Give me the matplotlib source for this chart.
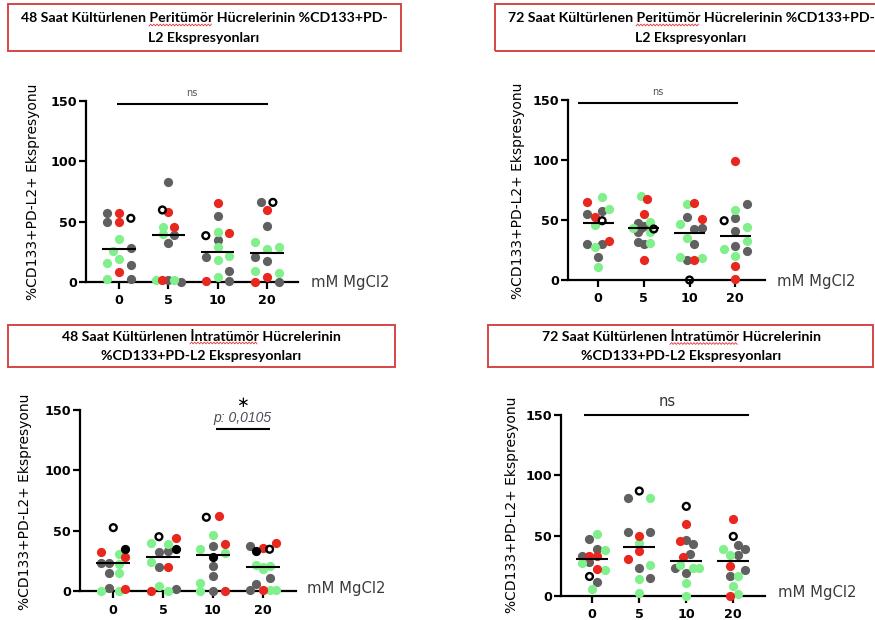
import numpy as np
import matplotlib.pyplot as plt
from matplotlib.lines import Line2D
from matplotlib.patches import Rectangle
from matplotlib.font_manager import FontProperties

W, H = 875, 620

categories = ["0", "5", "10", "20"]
x_label = "mM MgCl2"
y_label = "%CD133+PD-L2+ Ekspresyonu"

# group codes per dot: G gray, R red, Y green, K black, O open circle
# slots = sideways spread of the dots (GraphPad style), in dot widths

# 48 h peritumoral
p1_title = ["48 Saat Kültürlenen Peritümör Hücrelerinin %CD133+PD-", "L2 Ekspresyonları"]
p1_values = [
    [56.9, 56.9, 52.8, 50, 50, 35.4, 27.9, 26, 18.8, 15.5, 14.1, 8.6, 2.2, 2.2],
    [83.1, 59.7, 58.3, 45.3, 45.3, 39.8, 39, 32, 1.7, 1.7, 1.7, 1.7, 0],
    [65.2, 55, 41.2, 40.3, 38.4, 34.8, 28.7, 21.8, 20.5, 18.2, 9.4, 4.4, 1.1, 1.1],
    [66, 66, 59.7, 46.7, 33.4, 28.7, 27.3, 20.5, 17.4, 9.1, 7.7, 4.4, 0, 0],
]
p1_groups = ["GROGRYGYYYGRYG", "GORYRYGGYRGYG", "RGYROGYYGYGYRG", "GORGYYYGGYYRRG"]
p1_slots = [
    [-2, 0, 2, -2, 0, 0, 2, -1, 0, -2, 2, 0, -2, 2],
    [0, -1, 0, -0.9, 1, -0.9, 1, 0, -2.1, -1, 0, 1, 2.1],
    [0, 0, 0, 2, -2, 0, 0, 2, -2, 0, 2, 0, -2, 2],
    [-1, 1, 0, 0, -2, 2, 0, -2, 0, -2, 2, 0, -2, 2],
]

# 72 h peritumoral
p2_title = ["72 Saat Kültürlenen Peritümör Hücrelerinin %CD133+PD-", "L2 Ekspresyonları"]
p2_values = [
    [68.9, 64.7, 59.2, 57.5, 54.7, 52.8, 49.4, 45.8, 32.8, 29.7, 29.7, 27.2, 18.9, 11.1],
    [70.3, 67.5, 55, 47.2, 48.6, 45, 43.6, 43, 42.5, 40.3, 40.3, 31.4, 30, 30.6, 16.7],
    [64.4, 63.3, 52.2, 50.8, 46.4, 43.6, 42.5, 35.3, 30, 19.4, 18, 16.7, 16.7, 0],
    [99.5, 63.3, 58.3, 51.9, 49.4, 44.4, 41.1, 32.5, 28.3, 25.8, 24.4, 20.3, 11.9, 0.6],
]
p2_groups = ["YRYGGROYRGGYGY", "YRRGYGGYOGYGGYR", "RYGRYGGYGYYGRO", "RGYGOYGYGYGYRR"]
p2_slots = [
    [0.7, -2, 2, 0.7, -2, -0.6, 0.7, -0.6, 2, -2, 0.7, -0.6, 0, 0],
    [-0.6, 0.5, 0, -1.1, 1.05, 0, -0.6, -2, 1.8, -1.1, 1.05, -1.1, 0, 1.05, 0],
    [0.9, -0.5, -0.5, 2.3, -1.8, 2.3, 0.9, -0.5, 0.9, -1.8, 2.3, -0.5, 0.9, 0],
    [0, 2.2, 0, 0, -2, 2.2, 0, 2.2, 0, -2, 2.2, 0, 0, 0],
]

# 48 h intratumoral
p3_title = ["48 Saat Kültürlenen İntratümör Hücrelerinin", "%CD133+PD-L2 Ekspresyonları"]
p3_values = [
    [52.5, 34.8, 32.6, 30.7, 28.4, 23.5, 23.5, 22.1, 15.2, 15.2, 2.2, 0.3, 0.3, 1.4],
    [45, 44.2, 39.5, 38.9, 34.8, 32.3, 32.8, 24.3, 20.2, 20.2, 4.1, 1.4, 0.3, 0.3],
    [62.2, 61.1, 46.4, 38.9, 37.3, 34.6, 31.7, 28.4, 20.7, 12.7, 6.9, 0.3, 0.3, 0.3],
    [39.5, 37.3, 33.4, 35.4, 34.6, 21.5, 18, 19.5, 21, 10.5, 5.8, 0.8, 0.8, 0.8, 0.8],
]
p3_groups = ["OKRYRGGYGYGYYR", "ORYYKGGYGRYGRY", "ROYRGYYKGGYYGR", "RGKROYYYYGGGRYY"]
p3_slots = [
    [0, 2, -2, 1, 2, -2, -0.7, 1, -0.7, 1, -0.7, -2, 1, 2],
    [-0.7, 2.2, -2.1, 0.75, 2.2, -0.7, 0.75, -2.1, -0.7, 0.75, -0.7, 2.2, -2.1, 0.75],
    [1.1, -1.1, 0, 2.1, 0, -2.2, 2.1, 0, 0, 0, -2.2, -2.2, 0, 2.1],
    [2.2, -2.2, -1.15, 0, 1.15, -1.15, 0, 0, 1.15, 1.15, -1.15, -2.2, 0, 1.15, 2.2],
]

# 72 h intratumoral
p4_title = ["72 Saat Kültürlenen İntratümör Hücrelerinin", "%CD133+PD-L2 Ekspresyonları"]
p4_values = [
    [51, 47.5, 39.2, 37.8, 32.8, 32.8, 32.8, 28.1, 27.2, 22, 21.2, 16.2, 12, 6],
    [87, 81.5, 81.5, 53, 53, 49.4, 43.8, 37, 30.9, 25.3, 23.1, 15.1, 13.7, 2.3],
    [74.3, 59.9, 46.1, 45.2, 42.8, 35, 32.2, 25.3, 23.1, 23.1, 23.1, 19.3, 11, 0],
    [63.8, 49.4, 42.5, 38.6, 38.6, 33.6, 33.6, 24.5, 21.2, 16.2, 16.2, 8.7, 0, 1.4],
]
p4_groups = ["YGGYGRRGYRYOGY", "OGYGGRYRRYGGYY", "ORGRGGRYGYYGYY", "ROGYGYGRGGYYRY"]
p4_slots = [
    [0.8, -0.5, 0.8, 2.25, -1.9, -0.5, 0.8, -0.5, -1.9, 0.8, 2.25, -0.5, 0.8, 0],
    [0, -1.95, 1.9, -1.95, 1.9, 0, 0, 0, -1.95, 1.9, 0, 1.9, 0, 0],
    [0, 0, 0, -1.06, 1.2, 0.7, -0.5, -1.06, -1.95, 1.2, 2.2, 0, 0, 0],
    [0, 0, 0.77, -1.9, 2.07, -0.65, 0.77, -0.65, 2.07, -0.65, 0.77, 0, -0.65, 0.77],
]

colors = {"G": "#606060", "R": "#e8271f", "Y": "#80f08c", "K": "#000000"}
slot_w = 0.12

# layout in pixels: axes box (left, top, right, bottom), first category x, category spacing
panels = [
    dict(title=p1_title, values=p1_values, groups=p1_groups, slots=p1_slots,
         box=(86, 101, 298, 282), c0=119, sp=49.33,
         tbox=(8, 4, 401, 51), tx=204, ty=(18.5, 37.5),
         ylab=(33, 192), xlab=(311, 287),
         stat=dict(x=(-0.04, 3.02), y=147.5, text=[("ns", 1.48, 156.6, 7, "#555555", "normal", "normal")])),
    dict(title=p2_title, values=p2_values, groups=p2_groups, slots=p2_slots,
         box=(568, 100, 765, 280), c0=598.3, sp=45.6,
         tbox=(495, 4, 900, 51), tx=691, ty=(18.5, 37.5),
         ylab=(518, 191), xlab=(777, 286),
         stat=dict(x=(-0.445, 3.06), y=147.5, text=[("ns", 1.30, 156.7, 7, "#555555", "normal", "normal")])),
    dict(title=p3_title, values=p3_values, groups=p3_groups, slots=p3_slots,
         box=(80, 410, 296, 591), c0=113.3, sp=49.8,
         tbox=(8, 325, 395, 367), tx=201, ty=(336.5, 355.5),
         ylab=(25, 502), xlab=(307, 593),
         stat=dict(x=(2.06, 3.15), y=134.3, text=[(r"$\ast$", 2.6, 156.5, 11, "black", "bold", "normal"),
                                                  ("p: 0,0105", 2.6, 143.6, 10, "#4d4d5a", "normal", "italic")])),
    dict(title=p4_title, values=p4_values, groups=p4_groups, slots=p4_slots,
         box=(561, 415, 765, 596), c0=592.3, sp=47,
         tbox=(488, 325, 873, 367), tx=681, ty=(337, 355.5),
         ylab=(512, 505), xlab=(778, 597),
         stat=dict(x=(-0.18, 3.33), y=150, text=[("ns", 1.59, 161.4, 10.5, "#333333", "normal", "normal")])),
]

wavy_words = ["Peritümör", "Peritümör", "İntratümör", "İntratümör"]


def fx(px):
    return np.asarray(px) / W


def fy(py):
    return 1 - np.asarray(py) / H


plt.rcParams["mathtext.fontset"] = "dejavusans"
fig = plt.figure(figsize=(W / 100, H / 100), dpi=100)
renderer = fig.canvas.get_renderer()
title_font = FontProperties(family="Lato", weight="bold", size=10.2)

for k, p in enumerate(panels):
    l, t, r, b = p["box"]
    ax = fig.add_axes([fx(l), fy(b), fx(r) - fx(l), fy(t) - fy(b)])
    ax.set_xlim((l - p["c0"]) / p["sp"], (r - p["c0"]) / p["sp"])
    ax.set_ylim(0, 150)

    for i in range(len(categories)):
        vals = np.array(p["values"][i])
        grp = p["groups"][i]
        xs = i + np.array(p["slots"][i]) * slot_w
        for g in "GYRK":
            m = np.array([c == g for c in grp])
            if m.any():
                ax.scatter(xs[m], vals[m], s=44, color=colors[g], linewidths=0, zorder=3, clip_on=False)
        m = np.array([c == "O" for c in grp])
        ax.scatter(xs[m], vals[m], s=24, facecolors="none", edgecolors="black", linewidths=1.7,
                   zorder=4, clip_on=False)
        med = np.median(vals)
        ax.plot([i - 0.34, i + 0.34], [med, med], color="black", lw=1.5, zorder=5, solid_capstyle="butt")

    st = p["stat"]
    ax.plot(st["x"], [st["y"], st["y"]], color="black", lw=1.5, clip_on=False, solid_capstyle="butt")
    for txt, x, y, size, col, wt, sty in st["text"]:
        fam = "Liberation Sans" if sty == "italic" else "DejaVu Sans"
        ax.text(x, y, txt, ha="center", va="center", fontsize=size, color=col, fontweight=wt,
                fontstyle=sty, family=fam, clip_on=False)

    for s in ["top", "right"]:
        ax.spines[s].set_visible(False)
    for s in ["left", "bottom"]:
        ax.spines[s].set_linewidth(1.6)
    ax.set_xticks(range(len(categories)))
    ax.set_xticklabels(categories)
    ax.set_yticks([0, 50, 100, 150])
    ax.tick_params(direction="out", length=5, width=1.6, labelsize=9.2)
    ax.tick_params(axis="y", pad=1.5)
    ax.tick_params(axis="x", pad=4)
    for lab in ax.get_xticklabels() + ax.get_yticklabels():
        lab.set_fontweight("bold")
        lab.set_family("DejaVu Sans")

    fig.text(fx(p["ylab"][0]), fy(p["ylab"][1]), y_label, rotation=90, ha="center", va="center",
             fontsize=10, family="DejaVu Sans")
    fig.text(fx(p["xlab"][0]), fy(p["xlab"][1]), x_label, ha="left", va="baseline",
             fontsize=10.6, family="DejaVu Sans", color="#3a3a3a")

    # title box
    x0, y0, x1, y1 = p["tbox"]
    fig.add_artist(Rectangle((fx(x0), fy(y1)), fx(x1) - fx(x0), fy(y0) - fy(y1),
                             transform=fig.transFigure, fill=False, edgecolor="#d64545", lw=1.4))
    for line, yy in zip(p["title"], p["ty"]):
        fig.text(fx(p["tx"]), fy(yy), line, ha="center", va="center", fontproperties=title_font)

    # red spell-check underline under the word
    line = p["title"][0]
    word = wavy_words[k]
    full_w = renderer.get_text_width_height_descent(line, title_font, ismath=False)[0]
    pre_w = renderer.get_text_width_height_descent(line[:line.index(word)], title_font, ismath=False)[0]
    word_w = renderer.get_text_width_height_descent(word, title_font, ismath=False)[0]
    wx0 = p["tx"] - full_w / 2 + pre_w
    wxs = np.arange(wx0, wx0 + word_w, 1.6)
    wys = p["ty"][0] + 6.5 + 0.9 * (-1) ** np.arange(len(wxs))
    fig.add_artist(Line2D(fx(wxs), fy(wys), color="#e03535", lw=0.6, transform=fig.transFigure))

fig.savefig("out.png", dpi=100, facecolor="white")
